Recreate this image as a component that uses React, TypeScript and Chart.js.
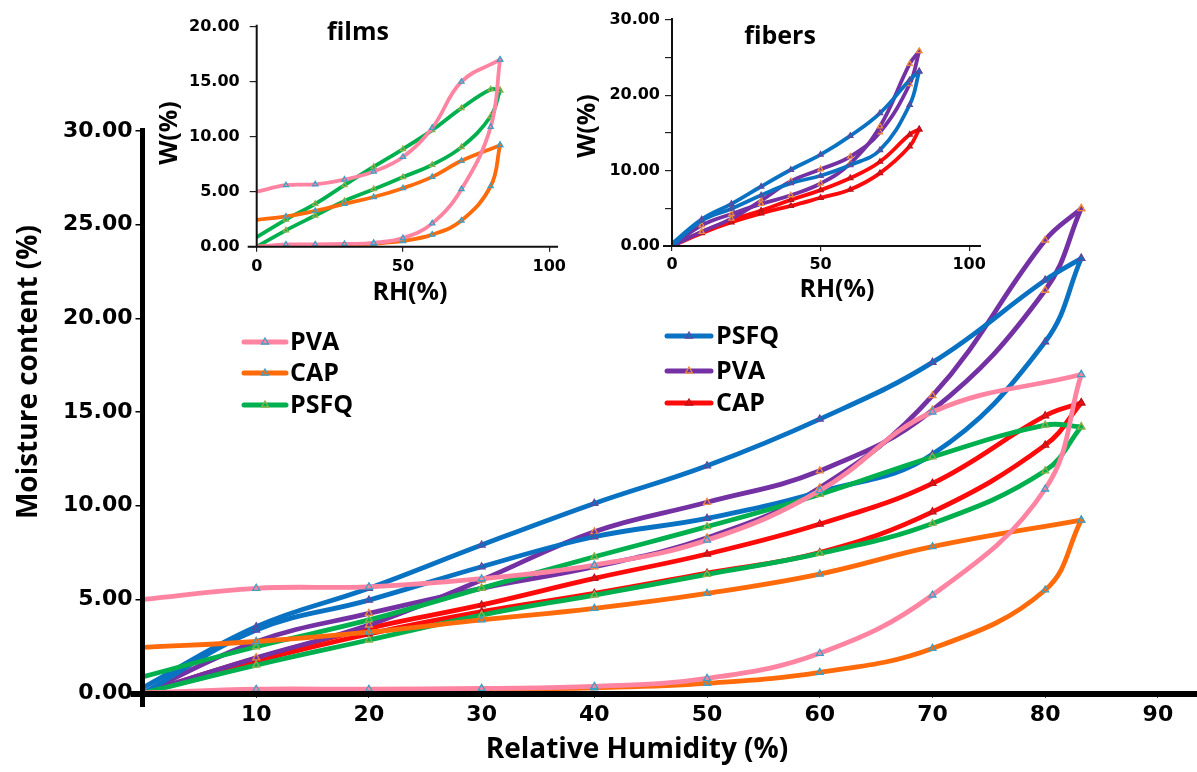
import React, { useEffect, useRef } from 'react';
import { Chart, registerables } from 'chart.js';

Chart.register(...registerables);

// ---------- data (RH %, moisture content %) ----------
const RH_UP = [0, 10, 20, 30, 40, 50, 60, 70, 80, 83.2];
const RH_DOWN = [83.2, 80, 70, 60, 50, 40, 30, 20, 10, 0];
const RH_DOWN_NO80 = [83.2, 70, 60, 50, 40, 30, 20, 10, 0];

// films
const filmPvaSorption = [0, 0.2, 0.2, 0.25, 0.35, 0.78, 2.12, 5.23, 10.89, 17.0];
const filmPvaDesorption = [17.0, 15.0, 10.8, 8.16, 6.83, 6.1, 5.67, 5.59, 5.0];
const filmCapSorption = [0, 0.1, 0.12, 0.18, 0.28, 0.52, 1.1, 2.38, 5.5, 9.23];
const filmCapDesorption = [9.23, 7.81, 6.35, 5.32, 4.52, 3.9, 3.25, 2.75, 2.44];
const filmPsfqSorption = [0, 1.49, 2.83, 4.16, 5.23, 6.33, 7.45, 9.05, 11.86, 14.21];
const filmPsfqDesorption = [14.21, 14.3, 12.6, 10.6, 8.88, 7.27, 5.6, 3.9, 2.47, 0.87];

// fibers
const fiberPsfqSorption = [0, 3.36, 4.96, 6.74, 8.34, 9.32, 10.74, 12.74, 18.75, 23.2];
const fiberPsfqDesorption = [23.2, 22.04, 17.65, 14.62, 12.13, 10.12, 7.9, 5.59, 3.54, 0.3];
const fiberPvaSorption = [0, 2.74, 4.25, 5.59, 6.74, 8.29, 10.96, 15.87, 24.17, 25.86];
const fiberPvaDesorption = [25.86, 21.5, 15.1, 11.86, 10.18, 8.61, 6.03, 3.63, 1.88, 0];
const fiberCapSorption = [0, 1.7, 3.15, 4.34, 5.32, 6.4, 7.5, 9.67, 13.23, 15.49];
const fiberCapDesorption = [15.49, 14.8, 11.19, 9.02, 7.42, 6.12, 4.7, 3.45, 1.85, 0];

// ticks
const MAIN_X_TICKS = [10, 20, 30, 40, 50, 60, 70, 80, 90];
const MAIN_Y_TICKS = [0, 5, 10, 15, 20, 25, 30];
const INSET_X_TICKS = [0, 50, 100];
const FILM_Y_TICKS = [0, 5, 10, 15, 20];
const FIBER_Y_TICKS = [0, 5, 10, 15, 20, 25, 30];

// ---------- styles ----------
const PINK = '#ff84a2';
const ORANGE = '#ff6a0a';
const GREEN = '#00b04f';
const BLUE = '#0a72c2';
const PURPLE = '#7431a3';
const RED = '#ff0a0a';
const TEAL = '#3e9fc4';
const OLIVE = '#8fb04a';
const INDIGO = '#5a4aa0';
const AMBER = '#f08a3c';
const DARKRED = '#b8141c';

type Series = {
  label: string;
  color: string;
  marker: string;
  upX: number[];
  up: number[];
  downX: number[];
  down: number[];
};

const FILMS: Series[] = [
  { label: 'PVA', color: PINK, marker: TEAL, upX: RH_UP, up: filmPvaSorption, downX: RH_DOWN_NO80, down: filmPvaDesorption },
  { label: 'CAP', color: ORANGE, marker: TEAL, upX: RH_UP, up: filmCapSorption, downX: RH_DOWN_NO80, down: filmCapDesorption },
  { label: 'PSFQ', color: GREEN, marker: OLIVE, upX: RH_UP, up: filmPsfqSorption, downX: RH_DOWN, down: filmPsfqDesorption },
];
const FIBERS: Series[] = [
  { label: 'PSFQ', color: BLUE, marker: INDIGO, upX: RH_UP, up: fiberPsfqSorption, downX: RH_DOWN, down: fiberPsfqDesorption },
  { label: 'PVA', color: PURPLE, marker: AMBER, upX: RH_UP, up: fiberPvaSorption, downX: RH_DOWN, down: fiberPvaDesorption },
  { label: 'CAP', color: RED, marker: DARKRED, upX: RH_UP, up: fiberCapSorption, downX: RH_DOWN, down: fiberCapDesorption },
];

const W = 1197;
const H = 772;
const TICK_FONT = "'DejaVu Sans'";
const TITLE_FONT = '"Open Sans"';

function datasets(series: Series[], lineWidth: number, radius: number) {
  const out: any[] = [];
  series.forEach((s) => {
    [
      { xs: s.upX, ys: s.up },
      { xs: s.downX, ys: s.down },
    ].forEach((part) => {
      out.push({
        label: s.label,
        data: part.xs.map((x, i) => ({ x, y: part.ys[i] })),
        borderColor: s.color,
        borderWidth: lineWidth,
        tension: 0.4,
        fill: false,
        pointStyle: 'triangle',
        pointRadius: (ctx: any) => (ctx.raw && ctx.raw.x === 0 ? 0 : radius),
        pointBorderColor: s.marker,
        pointBackgroundColor: 'rgba(255,255,255,0)',
        pointBorderWidth: 1.3,
      });
    });
  });
  return out;
}

function fixedAxis(size: number, horizontal: boolean) {
  return (s: any) => {
    if (horizontal) s.height = size;
    else s.width = size;
    s.paddingLeft = 0;
    s.paddingRight = 0;
    s.paddingTop = 0;
    s.paddingBottom = 0;
  };
}

function setTicks(values: number[]) {
  return (s: any) => {
    s.ticks = values.map((v) => ({ value: v }));
  };
}

function triangle(ctx: CanvasRenderingContext2D, x: number, y: number, r: number, color: string) {
  ctx.beginPath();
  for (let k = 0; k < 3; k++) {
    const a = (k * 2 * Math.PI) / 3;
    const px = x + Math.sin(a) * r;
    const py = y - Math.cos(a) * r;
    if (k === 0) ctx.moveTo(px, py);
    else ctx.lineTo(px, py);
  }
  ctx.closePath();
  ctx.strokeStyle = color;
  ctx.lineWidth = 1.3;
  ctx.stroke();
}

function text(ctx: CanvasRenderingContext2D, str: string, x: number, y: number, size: number, rotate = false, align: CanvasTextAlign = 'center') {
  ctx.save();
  ctx.font = `bold ${size}px ${TITLE_FONT}`;
  ctx.fillStyle = '#000';
  ctx.textAlign = align;
  ctx.textBaseline = 'middle';
  ctx.translate(x, y);
  if (rotate) ctx.rotate(-Math.PI / 2);
  ctx.fillText(str, 0, 0);
  ctx.restore();
}

function legend(ctx: CanvasRenderingContext2D, series: Series[], x1: number, x2: number, tx: number, ys: number[], size: number) {
  series.forEach((s, i) => {
    const y = ys[i];
    ctx.save();
    ctx.strokeStyle = s.color;
    ctx.lineWidth = 5;
    ctx.lineCap = 'round';
    ctx.beginPath();
    ctx.moveTo(x1, y);
    ctx.lineTo(x2, y);
    ctx.stroke();
    triangle(ctx, (x1 + x2) / 2, y, 4, s.marker);
    ctx.restore();
    text(ctx, s.label, tx, y + 1, size, false, 'left');
  });
}

const commonOptions = {
  animation: false as const,
  responsive: false,
  devicePixelRatio: 1,
  events: [] as any[],
  plugins: { legend: { display: false }, tooltip: { enabled: false }, title: { display: false } },
  elements: { line: { borderCapStyle: 'round', borderJoinStyle: 'round' } },
};

function insetConfig(series: Series[], area: { left: number; top: number; right: number; bottom: number }, xMax: number, yMax: number, yTicks: number[], yLabelEvery: number, yTickPad: number, xTickPad: number, deco: (ctx: CanvasRenderingContext2D, chart: any) => void) {
  const yWidth = 100;
  const xHeight = 40;
  return {
    type: 'line' as const,
    data: { datasets: datasets(series, 3.8, 3) },
    options: {
      ...commonOptions,
      layout: {
        padding: { left: area.left - yWidth, top: area.top, right: W - area.right, bottom: H - area.bottom - xHeight },
      },
      scales: {
        x: {
          type: 'linear',
          min: 0,
          max: xMax,
          afterBuildTicks: setTicks(INSET_X_TICKS),
          afterFit: fixedAxis(xHeight, true),
          border: { display: false },
          grid: { display: true, drawOnChartArea: false, drawTicks: true, tickLength: 5, color: '#222', lineWidth: 1.2 },
          ticks: {
            autoSkip: false, maxRotation: 0, minRotation: 0, padding: xTickPad, color: '#000',
            font: { family: TICK_FONT, weight: 'bold', size: 16 },
            callback: (v: number) => String(v),
          },
        },
        y: {
          type: 'linear',
          min: 0,
          max: yMax,
          afterBuildTicks: setTicks(yTicks),
          afterFit: fixedAxis(yWidth, false),
          border: { display: false },
          grid: { display: true, drawOnChartArea: false, drawTicks: true, tickLength: 7, color: '#222', lineWidth: 1.2 },
          ticks: {
            autoSkip: false, padding: yTickPad, color: '#000',
            font: { family: TICK_FONT, weight: 'bold', size: 16 },
            callback: (v: number) => (v % yLabelEvery === 0 ? v.toFixed(2) : ''),
          },
        },
      },
    },
    plugins: [
      {
        id: 'insetDeco',
        afterDraw(chart: any) {
          const ctx = chart.ctx as CanvasRenderingContext2D;
          const a = chart.chartArea;
          ctx.save();
          ctx.strokeStyle = '#111';
          ctx.lineWidth = 2;
          ctx.beginPath();
          ctx.moveTo(a.left, a.top - 2);
          ctx.lineTo(a.left, a.bottom);
          ctx.moveTo(a.left - 9, a.bottom);
          ctx.lineTo(a.right, a.bottom);
          ctx.stroke();
          ctx.restore();
          deco(ctx, chart);
        },
      },
    ],
  };
}

function mainConfig() {
  const yWidth = 100;
  const xHeight = 60;
  const area = { left: 143.5, top: 131, right: 1192.5, bottom: 693 };
  return {
    type: 'line' as const,
    data: { datasets: [...datasets(FILMS, 4.8, 4), ...datasets(FIBERS, 4.8, 4)] },
    options: {
      ...commonOptions,
      layout: {
        padding: { left: area.left - yWidth, top: area.top, right: W - area.right, bottom: H - area.bottom - xHeight },
      },
      scales: {
        x: {
          type: 'linear',
          min: 0,
          max: 93,
          afterBuildTicks: setTicks(MAIN_X_TICKS),
          afterFit: fixedAxis(xHeight, true),
          border: { display: false },
          grid: { display: true, drawOnChartArea: false, drawTicks: true, tickLength: 5, color: '#444', lineWidth: 1 },
          ticks: {
            autoSkip: false, maxRotation: 0, minRotation: 0, padding: 4, color: '#000',
            font: { family: TICK_FONT, weight: 'bold', size: 22 },
            callback: (v: number) => String(v),
          },
        },
        y: {
          type: 'linear',
          min: 0,
          max: 30,
          afterBuildTicks: setTicks(MAIN_Y_TICKS),
          afterFit: fixedAxis(yWidth, false),
          border: { display: false },
          grid: { display: true, drawOnChartArea: false, drawTicks: true, tickLength: 8, color: '#000', lineWidth: 1.5 },
          ticks: {
            autoSkip: false, padding: 3, color: '#000',
            font: { family: TICK_FONT, weight: 'bold', size: 22 },
            callback: (v: number) => v.toFixed(2),
          },
        },
      },
    },
    plugins: [
      {
        id: 'mainDeco',
        afterDraw(chart: any) {
          const ctx = chart.ctx as CanvasRenderingContext2D;
          const a = chart.chartArea;
          ctx.save();
          ctx.strokeStyle = '#000';
          ctx.lineWidth = 5;
          ctx.beginPath();
          ctx.moveTo(a.left - 1, a.top - 3);
          ctx.lineTo(a.left - 1, a.bottom + 14);
          ctx.stroke();
          ctx.lineWidth = 6;
          ctx.beginPath();
          ctx.moveTo(a.left - 13, a.bottom + 1);
          ctx.lineTo(W, a.bottom + 1);
          ctx.stroke();
          ctx.restore();
          text(ctx, 'Moisture content (%)', 29, 372, 28, true);
          text(ctx, 'Relative Humidity (%)', 637, 750, 28);
          legend(ctx, FILMS, 244, 286, 290, [342, 373, 405], 25);
          legend(ctx, FIBERS, 667, 711, 716, [336, 371, 403], 25);
        },
      },
    ],
  };
}

export default function App() {
  const mainRef = useRef<HTMLCanvasElement>(null);
  const filmRef = useRef<HTMLCanvasElement>(null);
  const fiberRef = useRef<HTMLCanvasElement>(null);

  useEffect(() => {
    document.body.style.margin = '0';
    const charts: Chart[] = [];
    if (mainRef.current) charts.push(new Chart(mainRef.current, mainConfig() as any));
    if (filmRef.current)
      charts.push(
        new Chart(
          filmRef.current,
          insetConfig(FILMS, { left: 256.7, top: 26.7, right: 558, bottom: 246.7 }, 103, 20, FILM_Y_TICKS, 5, 10, 6, (ctx) => {
            text(ctx, 'films', 358, 33, 25);
            text(ctx, 'W(%)', 170, 133, 25, true);
            text(ctx, 'RH(%)', 410, 293, 25);
          }) as any
        )
      );
    if (fiberRef.current)
      charts.push(
        new Chart(
          fiberRef.current,
          insetConfig(FIBERS, { left: 672, top: 20, right: 981, bottom: 246 }, 104, 30, FIBER_Y_TICKS, 10, 5, 4, (ctx) => {
            text(ctx, 'fibers', 780, 37, 25);
            text(ctx, 'W(%)', 588, 126, 25, true);
            text(ctx, 'RH(%)', 837, 290, 25);
          }) as any
        )
      );
    return () => charts.forEach((c) => c.destroy());
  }, []);

  const canvasStyle: React.CSSProperties = { position: 'absolute', left: 0, top: 0, width: W, height: H };
  return (
    <div style={{ position: 'relative', width: W, height: H, background: '#fff', overflow: 'hidden' }}>
      <canvas ref={mainRef} width={W} height={H} style={canvasStyle} />
      <canvas ref={filmRef} width={W} height={H} style={canvasStyle} />
      <canvas ref={fiberRef} width={W} height={H} style={canvasStyle} />
    </div>
  );
}
